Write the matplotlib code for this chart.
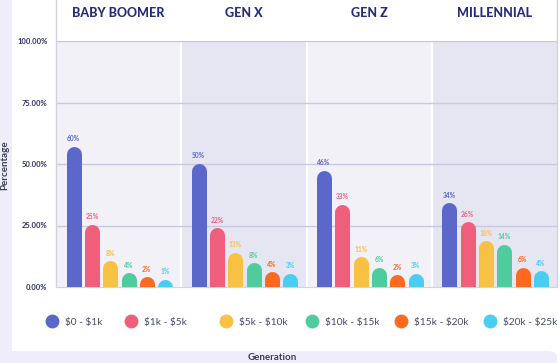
import matplotlib
matplotlib.use("Agg")
import matplotlib.pyplot as plt
from matplotlib.lines import Line2D
from matplotlib.patches import FancyBboxPatch
import numpy as np

plt.rcParams['font.family'] = ['Lato', 'DejaVu Sans']

# data
generations = ['BABY BOOMER', 'GEN X', 'GEN Z', 'MILLENNIAL']
ranges = [r'\$0 - \$1k', r'\$1k - \$5k', r'\$5k - \$10k', r'\$10k - \$15k', r'\$15k - \$20k', r'\$20k - \$25k']
colors = ['#5b67c9', '#ef5f7c', '#f7c143', '#4fcb9e', '#fd6a1f', '#4acdf3']

# printed labels (percent)
pct_labels = [[60, 25, 8, 4, 2, 1],
              [50, 22, 13, 8, 4, 3],
              [46, 33, 11, 6, 2, 3],
              [34, 26, 18, 14, 6, 4]]
# bar heights as drawn in the picture (percent)
heights = [[57.3, 25.5, 10.6, 5.8, 4.2, 3.1],
           [50.3, 24.1, 14.1, 9.9, 6.1, 5.6],
           [47.4, 33.6, 12.3, 8.0, 5.0, 5.6],
           [34.3, 26.5, 18.8, 17.4, 8.0, 6.6]]

yticks = [0, 25, 50, 75, 100]
ytick_labels = ['0.00%', '25.00%', '50.00%', '75.00%', '100.00%']

navy = '#272c7c'
tick_col = '#2d3160'
grid_col = '#cac8de'
lav = '#eeedf9'

fig = plt.figure(figsize=(5.6, 3.63), dpi=100, facecolor='white')
# lavender strips for the axis titles
left_strip = FancyBboxPatch((-0.05, 3/363), 0.05 + 12/560, 1.2, boxstyle='round,pad=0,rounding_size=0.018',
                            transform=fig.transFigure, facecolor=lav, edgecolor='none', zorder=-5)
bottom_strip = FancyBboxPatch((-0.05, -0.1), 0.05 + 557/560, 0.1 + 12/363, boxstyle='round,pad=0,rounding_size=0.018',
                              transform=fig.transFigure, facecolor=lav, edgecolor='none', zorder=-5)
fig.patches.extend([left_strip, bottom_strip])

ax = fig.add_axes([56/560, 1 - 287/363, 501/560, 246/363])
ax.set_xlim(-0.5, 3.5)
ax.set_ylim(0, 100)
ax.set_facecolor('none')

panel_cols = ['#f2f1f8', '#e6e5f2', '#f2f1f8', '#e6e5f2']
for g in range(4):
    ax.axvspan(g - 0.5, g + 0.5, color=panel_cols[g], zorder=0, lw=0)
    if g > 0:
        ax.axvline(g - 0.5, color='white', lw=1.6, zorder=1)

for y in yticks[1:]:
    ax.axhline(y, color=grid_col, lw=1, zorder=1)

# bars with rounded tops
bw_px = 15
lw_pt = bw_px * 72 / 100
r = (bw_px / 2) / 246 * 100
step = 0.1464
for g in range(4):
    for i in range(6):
        x = g - 0.36 + i * step
        h = heights[g][i]
        ax.plot([x, x], [-r, h - r], color=colors[i], lw=lw_pt,
                solid_capstyle='round', zorder=3)
        ax.text(x, h + 1.6, f'{pct_labels[g][i]}%', ha='center', va='bottom',
                fontsize=4.8, fontweight='bold', color=colors[i], zorder=4)
    ax.text(g, 111.4, generations[g], ha='center', va='center', fontsize=9,
            fontweight='black', color=navy, clip_on=False)

for xe in (-0.5, 3.5):
    ax.plot([xe, xe], [0, 117], color='#d3d2e2', lw=1, clip_on=False, zorder=2)

ax.set_xticks([])
ax.set_yticks(yticks)
ax.set_yticklabels(ytick_labels, fontsize=5.5, fontweight='bold', color=tick_col)
ax.tick_params(axis='y', length=0, pad=6)
for s in ['top', 'right', 'left']:
    ax.spines[s].set_visible(False)
ax.spines['bottom'].set_color('#d3d2e2')

# legend, one entry per slot
leg_x = [51.7, 131, 225.7, 312, 400.7, 490]
fs = 7.3
for i in range(6):
    h = Line2D([], [], marker='o', ls='none', markersize=10, markerfacecolor=colors[i],
               markeredgecolor='none')
    anchor = (leg_x[i] - 0.5 * fs * 100 / 72) / 560
    leg = fig.legend([h], [ranges[i]], loc='center left', bbox_to_anchor=(anchor, 1 - 322/363),
                     frameon=False, fontsize=fs, handletextpad=0.8, handlelength=1.0,
                     borderpad=0, borderaxespad=0)
    leg.get_texts()[0].set_color('#474b6b')

fig.text(5/560, 1 - 165/363, 'Percentage', rotation=90, ha='center', va='center',
         fontsize=7, fontweight='bold', color='#3a3d55')
fig.text(272/560, 1 - 358/363, 'Generation', ha='center', va='center',
         fontsize=7, fontweight='bold', color='#3a3d55')

fig.savefig('out.png', dpi=100, facecolor=fig.get_facecolor())
